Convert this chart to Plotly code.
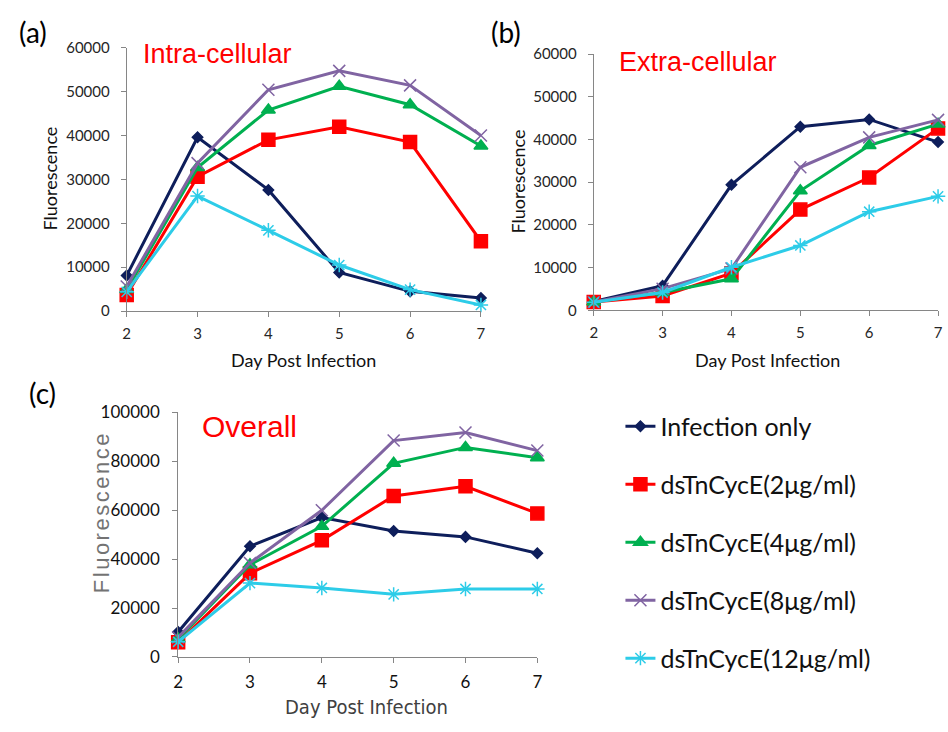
import plotly.graph_objects as go

W, H = 948, 732

days = [2, 3, 4, 5, 6, 7]
series_names = ["Infection only", "dsTnCycE(2μg/ml)", "dsTnCycE(4μg/ml)",
                "dsTnCycE(8μg/ml)", "dsTnCycE(12μg/ml)"]

intra_infection = [8100, 39600, 27600, 8800, 4500, 3000]
intra_2 = [3700, 30600, 39000, 42000, 38500, 15900]
intra_4 = [4900, 32700, 45800, 51200, 47000, 37600]
intra_8 = [5600, 33700, 50400, 54700, 51400, 40000]
intra_12 = [4400, 26200, 18400, 10500, 4900, 1400]

extra_infection = [2100, 5800, 29400, 43000, 44700, 39400]
extra_2 = [2000, 3400, 8700, 23600, 31100, 42600]
extra_4 = [2000, 4200, 7400, 28000, 38600, 43600]
extra_8 = [2000, 5100, 9800, 33500, 40500, 44600]
extra_12 = [1900, 4200, 10100, 15200, 23100, 26700]

overall_infection = [10200, 45300, 57000, 51500, 49100, 42400]
overall_2 = [6000, 34200, 47700, 65800, 69800, 58700]
overall_4 = [7300, 37700, 53400, 79200, 85700, 81500]
overall_8 = [8000, 38400, 60000, 88500, 91800, 84400]
overall_12 = [6200, 30200, 28200, 25600, 27800, 27800]

ticks_small = [0, 10000, 20000, 30000, 40000, 50000, 60000]
ticks_big = [0, 20000, 40000, 60000, 80000, 100000]

colors = ["#0E1E5B", "#FF0000", "#00B050", "#8064A2", "#2DCCE8"]
symbols = ["diamond", "square", "triangle-up", "x-thin", "asterisk"]
msizes = [8, 13, 12, 12, 12]

panels = [
    ("x", "y", [intra_infection, intra_2, intra_4, intra_8, intra_12]),
    ("x2", "y2", [extra_infection, extra_2, extra_4, extra_8, extra_12]),
    ("x3", "y3", [overall_infection, overall_2, overall_4, overall_8, overall_12]),
]

fig = go.Figure()
for p, (xa, ya, data) in enumerate(panels):
    for i, vals in enumerate(data):
        fig.add_trace(go.Scatter(
            x=days, y=vals, xaxis=xa, yaxis=ya, mode="lines+markers",
            name=series_names[i], legendgroup=series_names[i],
            showlegend=(p == 2), cliponaxis=False,
            line=dict(color=colors[i], width=3),
            marker=dict(symbol=symbols[i], size=msizes[i], color=colors[i],
                        line=dict(color=colors[i], width=1.5)),
        ))

def px_x(v):
    return v / W

def px_y(v):
    return 1 - v / H

axis_common = dict(showline=True, linecolor="#868686", linewidth=1,
                   ticks="outside", ticklen=5, tickcolor="#868686",
                   showgrid=False, zeroline=False)
tickfont_ab = dict(family="Lato, Carlito, sans-serif", size=15, color="#262626")
tickfont_c = dict(family="Lato, Carlito, sans-serif", size=17, color="#111111")

fig.update_layout(
    width=W, height=H, autosize=False, margin=dict(l=0, r=0, t=0, b=0),
    paper_bgcolor="white", plot_bgcolor="white",
    xaxis=dict(domain=[px_x(123), px_x(481)], range=[2, 7], anchor="y",
               tickvals=days, tickfont=tickfont_ab, ticklabelstandoff=4, **axis_common),
    yaxis=dict(domain=[px_y(309), px_y(37.7)], range=[0, 60000], anchor="x",
               tickvals=ticks_small, tickformat="d", tickfont=tickfont_ab,
               ticklabelstandoff=8, **axis_common),
    xaxis2=dict(domain=[px_x(595), px_x(943)], range=[2, 7], anchor="y2",
                tickvals=days, tickfont=tickfont_ab, ticklabelstandoff=4, **axis_common),
    yaxis2=dict(domain=[px_y(308.3), px_y(44.3)], range=[0, 60000], anchor="x2",
                tickvals=ticks_small, tickformat="d", tickfont=tickfont_ab,
                ticklabelstandoff=8, **axis_common),
    xaxis3=dict(domain=[px_x(175), px_x(538)], range=[2, 7], anchor="y3",
                tickvals=days, tickfont=tickfont_c, ticklabelstandoff=5, **axis_common),
    yaxis3=dict(domain=[px_y(665), px_y(413.3)], range=[0, 100000], anchor="x3",
                tickvals=ticks_big, tickformat="d", tickfont=tickfont_c,
                ticklabelstandoff=9, **axis_common),
    legend=dict(x=px_x(622), y=px_y(404), xanchor="left", yanchor="top",
                font=dict(family="Lato, Carlito, sans-serif", size=25, color="#111111"),
                tracegroupgap=22.5, bgcolor="rgba(0,0,0,0)"),
    showlegend=True,
)

ann = []
def text(x, y, s, size, color="#111111", family="Lato, Carlito, sans-serif",
         angle=0, xanchor="center"):
    ann.append(dict(x=px_x(x), y=px_y(y), xref="paper", yref="paper", text=s,
                    showarrow=False, xanchor=xanchor, yanchor="middle",
                    textangle=angle, font=dict(family=family, size=size, color=color)))

# panel labels
text(12, 22, "(a)", 28, "#000000", xanchor="left")
text(489, 22, "(b)", 28, "#000000", xanchor="left")
text(22, 393, "(c)", 28, "#000000", xanchor="left")

# panel titles
arial = "Liberation Sans, Arial, sans-serif"
text(137, 44, "Intra-cellular", 27, "#FF0000", arial, xanchor="left")
text(619, 53, "Extra-cellular", 27, "#FF0000", arial, xanchor="left")
text(197, 428, "Overall", 30, "#FF0000", arial, xanchor="left")

# axis titles
text(46, 173, "Fluorescence", 18, "#111111", angle=-90)
text(302, 359, "Day Post Infection", 18, "#111111")
text(518, 176, "Fluorescence", 18, "#111111", angle=-90)
text(771, 359, "Day Post Infection", 18, "#111111")
text(97, 516, '<span style="letter-spacing:2.5px">Fluorescence</span>', 22,
     "#737373", arial, angle=-90)
text(365, 717, "Day Post Infection", 20, "#404040",
     "Liberation Sans Narrow, DejaVu Sans Condensed, Arial Narrow, sans-serif")

fig.update_layout(annotations=ann)
fig.write_html(
    "out.html",
    config={"displayModeBar": False, "responsive": False},
    post_script="document.body.style.margin='0';document.body.style.padding='0';"
                "document.body.style.overflow='hidden';"
                "document.documentElement.style.overflow='hidden';",
)
